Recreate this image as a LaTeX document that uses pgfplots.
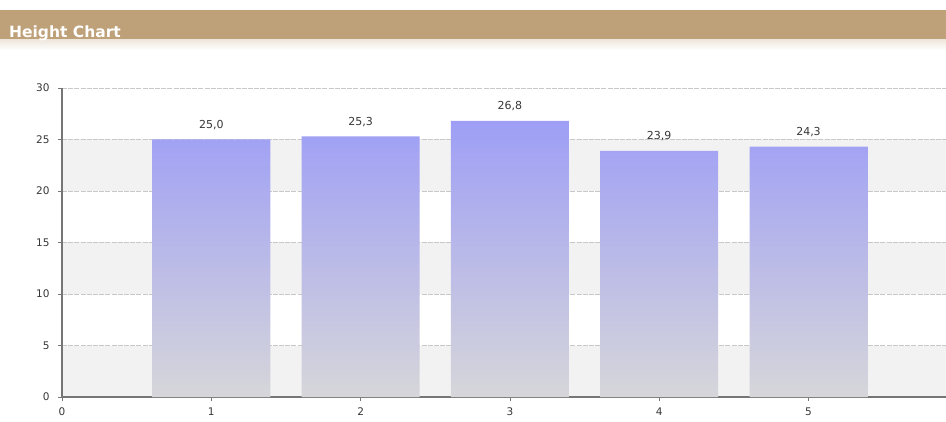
\documentclass[border=0pt]{standalone}
\usepackage{pgfplots}
\pgfplotsset{compat=1.18}
\usepackage{fontspec}
\setmainfont{DejaVu Sans}

\definecolor{titlebar}{RGB}{190,160,121}
\definecolor{band}{RGB}{242,242,242}
\definecolor{barTop}{RGB}{158,158,246}
\definecolor{barBot}{RGB}{214,214,218}
\definecolor{axisgray}{RGB}{118,118,118}
\definecolor{gridgray}{RGB}{200,200,200}
\definecolor{labelgray}{RGB}{55,55,55}

\pgfplotsset{set layers}

\begin{document}
\begin{tikzpicture}
  % title strip
  \fill[titlebar] (0pt,381pt) rectangle (946pt,411pt);
  \shade[top color=titlebar!25, bottom color=white] (0pt,371pt) rectangle (946pt,381pt);
  \node[anchor=base west, text=white, inner sep=0,
        font=\bfseries\fontsize{15.5}{17}\selectfont] at (9pt,383pt) {Height Chart};

  \begin{axis}[
    at={(62pt,24pt)}, anchor=origin,
    x=149.3pt, y=10.3pt,
    xmin=0, xmax=5.921, ymin=0, ymax=30,
    axis lines=left,
    axis line style={-, axisgray, line width=2pt},
    xtick={0,1,2,3,4,5},
    ytick={0,5,10,15,20,25,30},
    tick align=outside,
    major tick length=4pt,
    tick style={axisgray, line width=0.6pt},
    ticklabel style={font=\fontsize{10.5}{12}\selectfont, text=labelgray},
    yticklabel style={xshift=-5pt},
    xticklabel style={yshift=-3pt},
    /pgf/number format/assume math mode=true,
    ymajorgrids,
    grid style={gridgray, line width=0.7pt, dash pattern=on 5pt off 1.2pt},
    clip=false,
  ]
    % alternating horizontal bands behind the grid
    \addplot[fill=band, draw=none, on layer=axis background, forget plot]
      coordinates {(0,0) (5.921,0) (5.921,5) (0,5)} -- cycle;
    \addplot[fill=band, draw=none, on layer=axis background, forget plot]
      coordinates {(0,10) (5.921,10) (5.921,15) (0,15)} -- cycle;
    \addplot[fill=band, draw=none, on layer=axis background, forget plot]
      coordinates {(0,20) (5.921,20) (5.921,25) (0,25)} -- cycle;

    \addplot[ybar, bar width=118pt, draw=none,
             top color=barTop, bottom color=barBot,
             nodes near coords={\pgfmathprintnumber[fixed,fixed zerofill,precision=1,use comma]{\pgfplotspointmeta}},
             point meta=y,
             every node near coord/.append style={anchor=base, yshift=11pt,
               font=\fontsize{11}{12}\selectfont, text=labelgray}]
      coordinates {(1,25.0) (2,25.3) (3,26.8) (4,23.9) (5,24.3)};
  \end{axis}
  % the page is exactly the frame
  \pgfresetboundingbox
  \path[use as bounding box] (0pt,0pt) rectangle (946pt,421pt);
\end{tikzpicture}
\end{document}
